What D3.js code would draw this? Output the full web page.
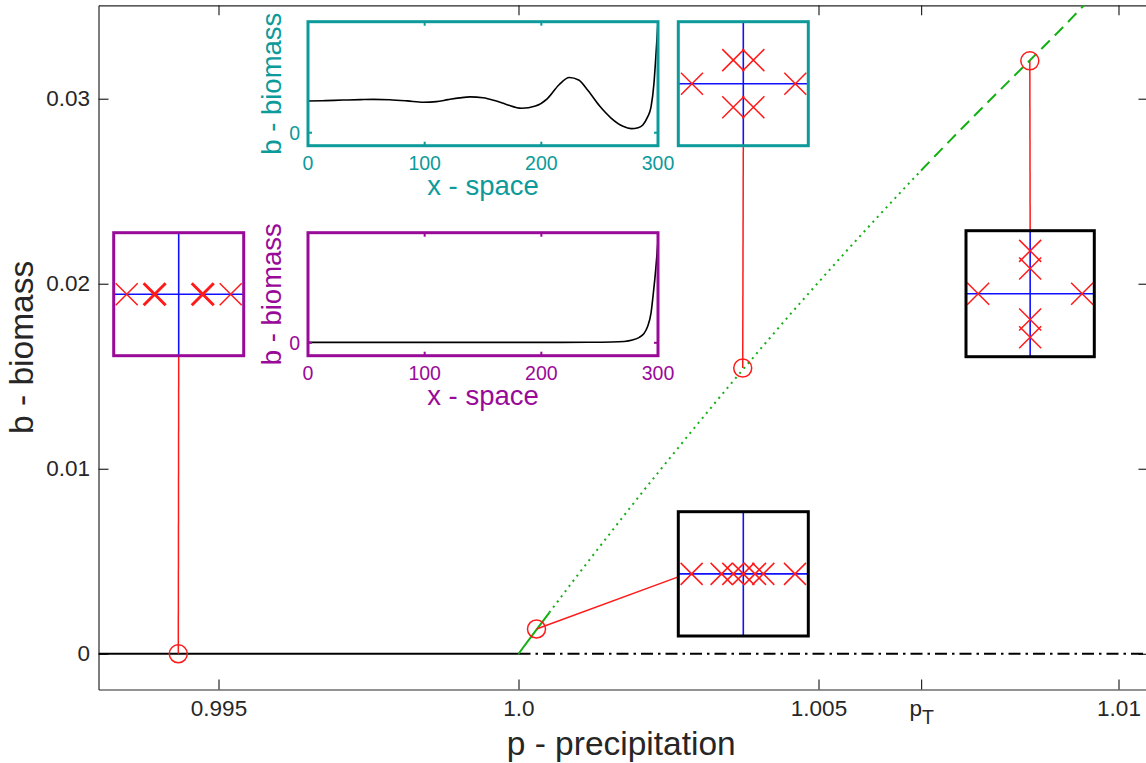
<!DOCTYPE html>
<html><head><meta charset="utf-8">
<script src="https://cdn.jsdelivr.net/npm/d3@7"></script>
<style>
body{margin:0;background:#fff;}
svg{display:block;}
text{font-family:"Liberation Sans",Arial,Helvetica,sans-serif;}
</style>
</head><body>
<svg id="chart" width="1146" height="763"></svg>
<script>
// ---------------- data ----------------
const xTickValues = [0.995, 1.0, 1.005, 1.00671, 1.01];
const xTickLabels = ["0.995", "1.0", "1.005", "pT", "1.01"];
const yTickValues = [0, 0.01, 0.02, 0.03];
const yTickLabels = ["0", "0.01", "0.02", "0.03"];

// bare-soil branch b = 0
const bareStableP = [0.993, 1.0];
const bareStableB = [0, 0];
const bareUnstableP = [1.0, 1.0105];
const bareUnstableB = [0, 0];

// vegetated branch
const vegSolidP = [1.0, 1.00025, 1.000512];
const vegSolidB = [0, 0.00109, 0.00222];
const vegDottedP = [1.000512, 1.001, 1.0015, 1.002, 1.0025, 1.003, 1.0035, 1.004, 1.0045, 1.005, 1.0055, 1.006, 1.0065, 1.00671];
const vegDottedB = [0.00222, 0.00431, 0.00640, 0.00847, 0.01049, 0.01248, 0.01444, 0.01635, 0.01824, 0.02008, 0.02189, 0.02366, 0.02540, 0.02612];
const vegDashedP = [1.00671, 1.007, 1.0075, 1.008, 1.0085, 1.009, 1.0095, 1.0105];
const vegDashedB = [0.02612, 0.02710, 0.02876, 0.03039, 0.03200, 0.03362, 0.03530, 0.03850];

// marked solutions (red circles)
const markP = [0.99433, 1.0003, 1.003737, 1.008522];
const markB = [0, 0.00134, 0.01544, 0.03205];

// eigenvalue spectra (normalised to each small box)
const eigPurpleRe = [-0.8, -0.37, 0.37, 0.8];
const eigPurpleIm = [0, 0, 0, 0];
const eigPurpleMult = [1, 2, 2, 1];
const eigTealRe = [-0.79, 0.8, -0.155, 0.155, -0.155, 0.155];
const eigTealIm = [0, 0, 0.38, 0.38, -0.38, -0.38];
const eigBlackTopRe = [-0.81, 0.81, 0, 0, 0, 0];
const eigBlackTopIm = [0, 0, 0.68, 0.40, -0.41, -0.69];
const eigBlackBotRe = [-0.795, -0.334, -0.154, 0, 0.18, 0.308, 0.795];
const eigBlackBotIm = [0, 0, 0, 0, 0, 0, 0];

// spatial profiles
const tealX = [0, 15, 30, 45, 56, 70, 85, 99, 110, 120, 130, 139, 150, 160, 170, 183, 195, 205, 215, 224, 232, 240, 250, 260, 270, 277, 283, 287, 291, 294, 296.5, 298.5, 300];
const tealB = [0.285, 0.289, 0.294, 0.298, 0.300, 0.297, 0.287, 0.275, 0.280, 0.298, 0.314, 0.323, 0.315, 0.290, 0.255, 0.220, 0.240, 0.305, 0.430, 0.498, 0.475, 0.380, 0.240, 0.130, 0.058, 0.037, 0.045, 0.070, 0.140, 0.230, 0.440, 0.745, 1.0];
const purpleX = [0, 50, 100, 150, 200, 240, 260, 271, 278, 284, 288, 291, 294, 296, 298, 299, 300];
const purpleB = [0.004, 0.004, 0.004, 0.004, 0.004, 0.005, 0.007, 0.012, 0.025, 0.050, 0.085, 0.145, 0.27, 0.45, 0.66, 0.79, 0.93];
const profileXTicks = [0, 100, 200, 300];
const profileYTicks = [0];

// ---------------- layout ----------------
const W = 1146, H = 763;
const plot = {left: 98.5, right: 1148.5, top: 5.3, bottom: 689.5};
const axisColor = "#262626";
const teal = "#0c9a9a", purple = "#990a99", green = "#12b012", red = "#ff1a1a", blue = "#1010ff";
const tickFont = 22.5, labelFont = 33.5;

const svg = d3.select("#chart");
svg.append("rect").attr("width", W).attr("height", H).attr("fill", "#fff");

const x = d3.scaleLinear().domain([0.993, 1.0105]).range([plot.left, plot.right]);
const y = d3.scaleLinear().domain([-0.00193, 0.03505]).range([plot.bottom, plot.top]);

svg.append("defs").append("clipPath").attr("id", "plotclip")
  .append("rect").attr("x", plot.left).attr("y", plot.top)
  .attr("width", plot.right - plot.left).attr("height", plot.bottom - plot.top);

// axes box + ticks
function styleAxis(g) {
  g.select(".domain").attr("stroke", axisColor).attr("stroke-width", 1.2);
  g.selectAll(".tick line").attr("stroke", axisColor).attr("stroke-width", 1.2);
  g.selectAll(".tick text").attr("fill", axisColor).attr("font-size", tickFont)
    .attr("font-family", '"Liberation Sans", Arial, sans-serif');
}
const fmtX = (d, i) => xTickLabels[i];
const fmtY = (d, i) => yTickLabels[i];

const gxB = svg.append("g").attr("transform", `translate(0,${plot.bottom})`)
  .call(d3.axisBottom(x).tickValues(xTickValues).tickFormat(fmtX).tickSizeInner(-10).tickSizeOuter(0).tickPadding(10.5));
styleAxis(gxB);
gxB.selectAll(".tick text").filter((d, i) => xTickLabels[i] === "pT").each(function() {
  const t = d3.select(this); t.text(null);
  t.append("tspan").text("p");
  t.append("tspan").attr("font-size", 19.5).attr("dy", "0.42em").text("T");
});

const gxT = svg.append("g").attr("transform", `translate(0,${plot.top})`)
  .call(d3.axisTop(x).tickValues(xTickValues).tickFormat("").tickSizeInner(-10).tickSizeOuter(0));
styleAxis(gxT);

const gyL = svg.append("g").attr("transform", `translate(${plot.left},0)`)
  .call(d3.axisLeft(y).tickValues(yTickValues).tickFormat(fmtY).tickSizeInner(-10).tickSizeOuter(0).tickPadding(8.5));
styleAxis(gyL);
const gyR = svg.append("g").attr("transform", `translate(${plot.right},0)`)
  .call(d3.axisRight(y).tickValues(yTickValues).tickFormat("").tickSizeInner(-10).tickSizeOuter(0));
styleAxis(gyR);

// axis labels
svg.append("text").attr("x", (plot.left + plot.right - 2.5) / 2 - 1).attr("y", 755)
  .attr("text-anchor", "middle").attr("font-size", labelFont).attr("fill", axisColor)
  .text("p - precipitation");
svg.append("text").attr("transform", `translate(33,${(plot.top + plot.bottom) / 2}) rotate(-90)`)
  .attr("text-anchor", "middle").attr("font-size", labelFont).attr("fill", axisColor)
  .text("b - biomass");

// ---------------- branches ----------------
const plotG = svg.append("g").attr("clip-path", "url(#plotclip)");
const line = d3.line().x(d => x(d[0])).y(d => y(d[1]));
const zipPB = (P, B) => P.map((p, i) => [p, B[i]]);

plotG.append("path").datum(zipPB(bareStableP, bareStableB)).attr("d", line)
  .attr("fill", "none").attr("stroke", "#000").attr("stroke-width", 2);
plotG.append("path").datum(zipPB(bareUnstableP, bareUnstableB)).attr("d", line)
  .attr("fill", "none").attr("stroke", "#000").attr("stroke-width", 2)
  .attr("stroke-dasharray", "12,5,2.5,5");
const curve = d3.line().x(d => x(d[0])).y(d => y(d[1])).curve(d3.curveMonotoneX);
plotG.append("path").datum(zipPB(vegSolidP, vegSolidB)).attr("d", curve)
  .attr("fill", "none").attr("stroke", green).attr("stroke-width", 2);
plotG.append("path").datum(zipPB(vegDottedP, vegDottedB)).attr("d", curve)
  .attr("fill", "none").attr("stroke", green).attr("stroke-width", 2)
  .attr("stroke-dasharray", "2,4.5");
plotG.append("path").datum(zipPB(vegDashedP, vegDashedB)).attr("d", curve)
  .attr("fill", "none").attr("stroke", green).attr("stroke-width", 2)
  .attr("stroke-dasharray", "12,7");

// ---------------- eigenvalue boxes ----------------
const eigBoxes = [
  {x: 113.7, y: 232.7, w: 130, h: 123, frame: purple, re: eigPurpleRe, im: eigPurpleIm, mult: eigPurpleMult, mark: 0, anchor: "bottom"},
  {x: 678.3, y: 511.7, w: 130, h: 124.3, frame: "#000", re: eigBlackBotRe, im: eigBlackBotIm, mark: 1, anchor: "left"},
  {x: 678.3, y: 21.7, w: 130, h: 124, frame: teal, re: eigTealRe, im: eigTealIm, mark: 2, anchor: "bottom"},
  {x: 966, y: 230.7, w: 128.3, h: 126, frame: "#000", re: eigBlackTopRe, im: eigBlackTopIm, mark: 3, anchor: "top"}
];

// connectors and circles
const conn = svg.append("g");
eigBoxes.forEach(b => {
  const cx = x(markP[b.mark]), cy = y(markB[b.mark]);
  let ax, ay;
  if (b.anchor === "bottom") { ax = b.x + b.w / 2; ay = b.y + b.h; }
  else if (b.anchor === "top") { ax = b.x + b.w / 2; ay = b.y; }
  else { ax = b.x; ay = b.y + b.h / 2 + 3; }
  conn.append("line").attr("x1", ax).attr("y1", ay).attr("x2", cx).attr("y2", cy)
    .attr("stroke", red).attr("stroke-width", 1.5);
});
svg.append("g").selectAll("circle").data(markP.map((p, i) => [p, markB[i]])).join("circle")
  .attr("cx", d => x(d[0])).attr("cy", d => y(d[1])).attr("r", 9)
  .attr("fill", "none").attr("stroke", red).attr("stroke-width", 1.5);

eigBoxes.forEach(b => {
  const g = svg.append("g");
  const sx = d3.scaleLinear().domain([-1, 1]).range([b.x, b.x + b.w]);
  const sy = d3.scaleLinear().domain([-1, 1]).range([b.y + b.h, b.y]);
  g.append("rect").attr("x", b.x).attr("y", b.y).attr("width", b.w).attr("height", b.h)
    .attr("fill", "#fff");
  g.append("line").attr("x1", sx(-1)).attr("x2", sx(1)).attr("y1", sy(0)).attr("y2", sy(0))
    .attr("stroke", blue).attr("stroke-width", 1.6);
  g.append("line").attr("x1", sx(0)).attr("x2", sx(0)).attr("y1", sy(-1)).attr("y2", sy(1))
    .attr("stroke", blue).attr("stroke-width", 1.6);
  const s = 11;
  b.re.forEach((re, i) => {
    const px = sx(re), py = sy(b.im[i]);
    const sw = b.mult && b.mult[i] > 1 ? 3 : 1.5;
    g.append("path").attr("d", `M${px - s},${py - s}L${px + s},${py + s}M${px - s},${py + s}L${px + s},${py - s}`)
      .attr("stroke", red).attr("stroke-width", sw).attr("fill", "none");
  });
  g.append("rect").attr("x", b.x).attr("y", b.y).attr("width", b.w).attr("height", b.h)
    .attr("fill", "none").attr("stroke", b.frame).attr("stroke-width", 3);
});

// ---------------- spatial profile insets ----------------
const profiles = [
  {x: 308, y: 21.7, w: 350, h: 124, color: teal, X: tealX, B: tealB},
  {x: 308, y: 232.7, w: 350, h: 123, color: purple, X: purpleX, B: purpleB}
];
profiles.forEach(pr => {
  const g = svg.append("g");
  const sx = d3.scaleLinear().domain([0, 300]).range([pr.x, pr.x + pr.w]);
  const sy = d3.scaleLinear().domain([-0.117, 1]).range([pr.y + pr.h, pr.y]);
  g.append("rect").attr("x", pr.x).attr("y", pr.y).attr("width", pr.w).attr("height", pr.h).attr("fill", "#fff");
  g.append("path").datum(pr.X.map((v, i) => [v, pr.B[i]]))
    .attr("d", d3.line().x(d => sx(d[0])).y(d => sy(d[1])).curve(d3.curveMonotoneX))
    .attr("fill", "none").attr("stroke", "#000").attr("stroke-width", 1.6);
  profileXTicks.forEach(t => {
    g.append("line").attr("x1", sx(t)).attr("x2", sx(t)).attr("y1", pr.y + pr.h).attr("y2", pr.y + pr.h - 4)
      .attr("stroke", pr.color).attr("stroke-width", 2);
    g.append("line").attr("x1", sx(t)).attr("x2", sx(t)).attr("y1", pr.y).attr("y2", pr.y + 4)
      .attr("stroke", pr.color).attr("stroke-width", 2);
    g.append("text").attr("x", sx(t)).attr("y", pr.y + pr.h + 24.5).attr("text-anchor", "middle")
      .attr("font-size", 19.5).attr("fill", pr.color).text(t);
  });
  profileYTicks.forEach(t => {
    g.append("line").attr("x1", pr.x).attr("x2", pr.x + 4).attr("y1", sy(t)).attr("y2", sy(t))
      .attr("stroke", pr.color).attr("stroke-width", 2);
    g.append("line").attr("x1", pr.x + pr.w).attr("x2", pr.x + pr.w - 4).attr("y1", sy(t)).attr("y2", sy(t))
      .attr("stroke", pr.color).attr("stroke-width", 2);
    g.append("text").attr("x", pr.x - 8).attr("y", sy(t)).attr("dy", "0.35em").attr("text-anchor", "end")
      .attr("font-size", 19.5).attr("fill", pr.color).text(t);
  });
  g.append("rect").attr("x", pr.x).attr("y", pr.y).attr("width", pr.w).attr("height", pr.h)
    .attr("fill", "none").attr("stroke", pr.color).attr("stroke-width", 3);
  g.append("text").attr("x", pr.x + pr.w / 2).attr("y", pr.y + pr.h + 49)
    .attr("text-anchor", "middle").attr("font-size", 27.5).attr("fill", pr.color).text("x - space");
  g.append("text").attr("transform", `translate(${pr.x - 27},${pr.y + pr.h / 2}) rotate(-90)`)
    .attr("text-anchor", "middle").attr("font-size", 27.5).attr("fill", pr.color).text("b - biomass");
});
</script>
</body></html>
